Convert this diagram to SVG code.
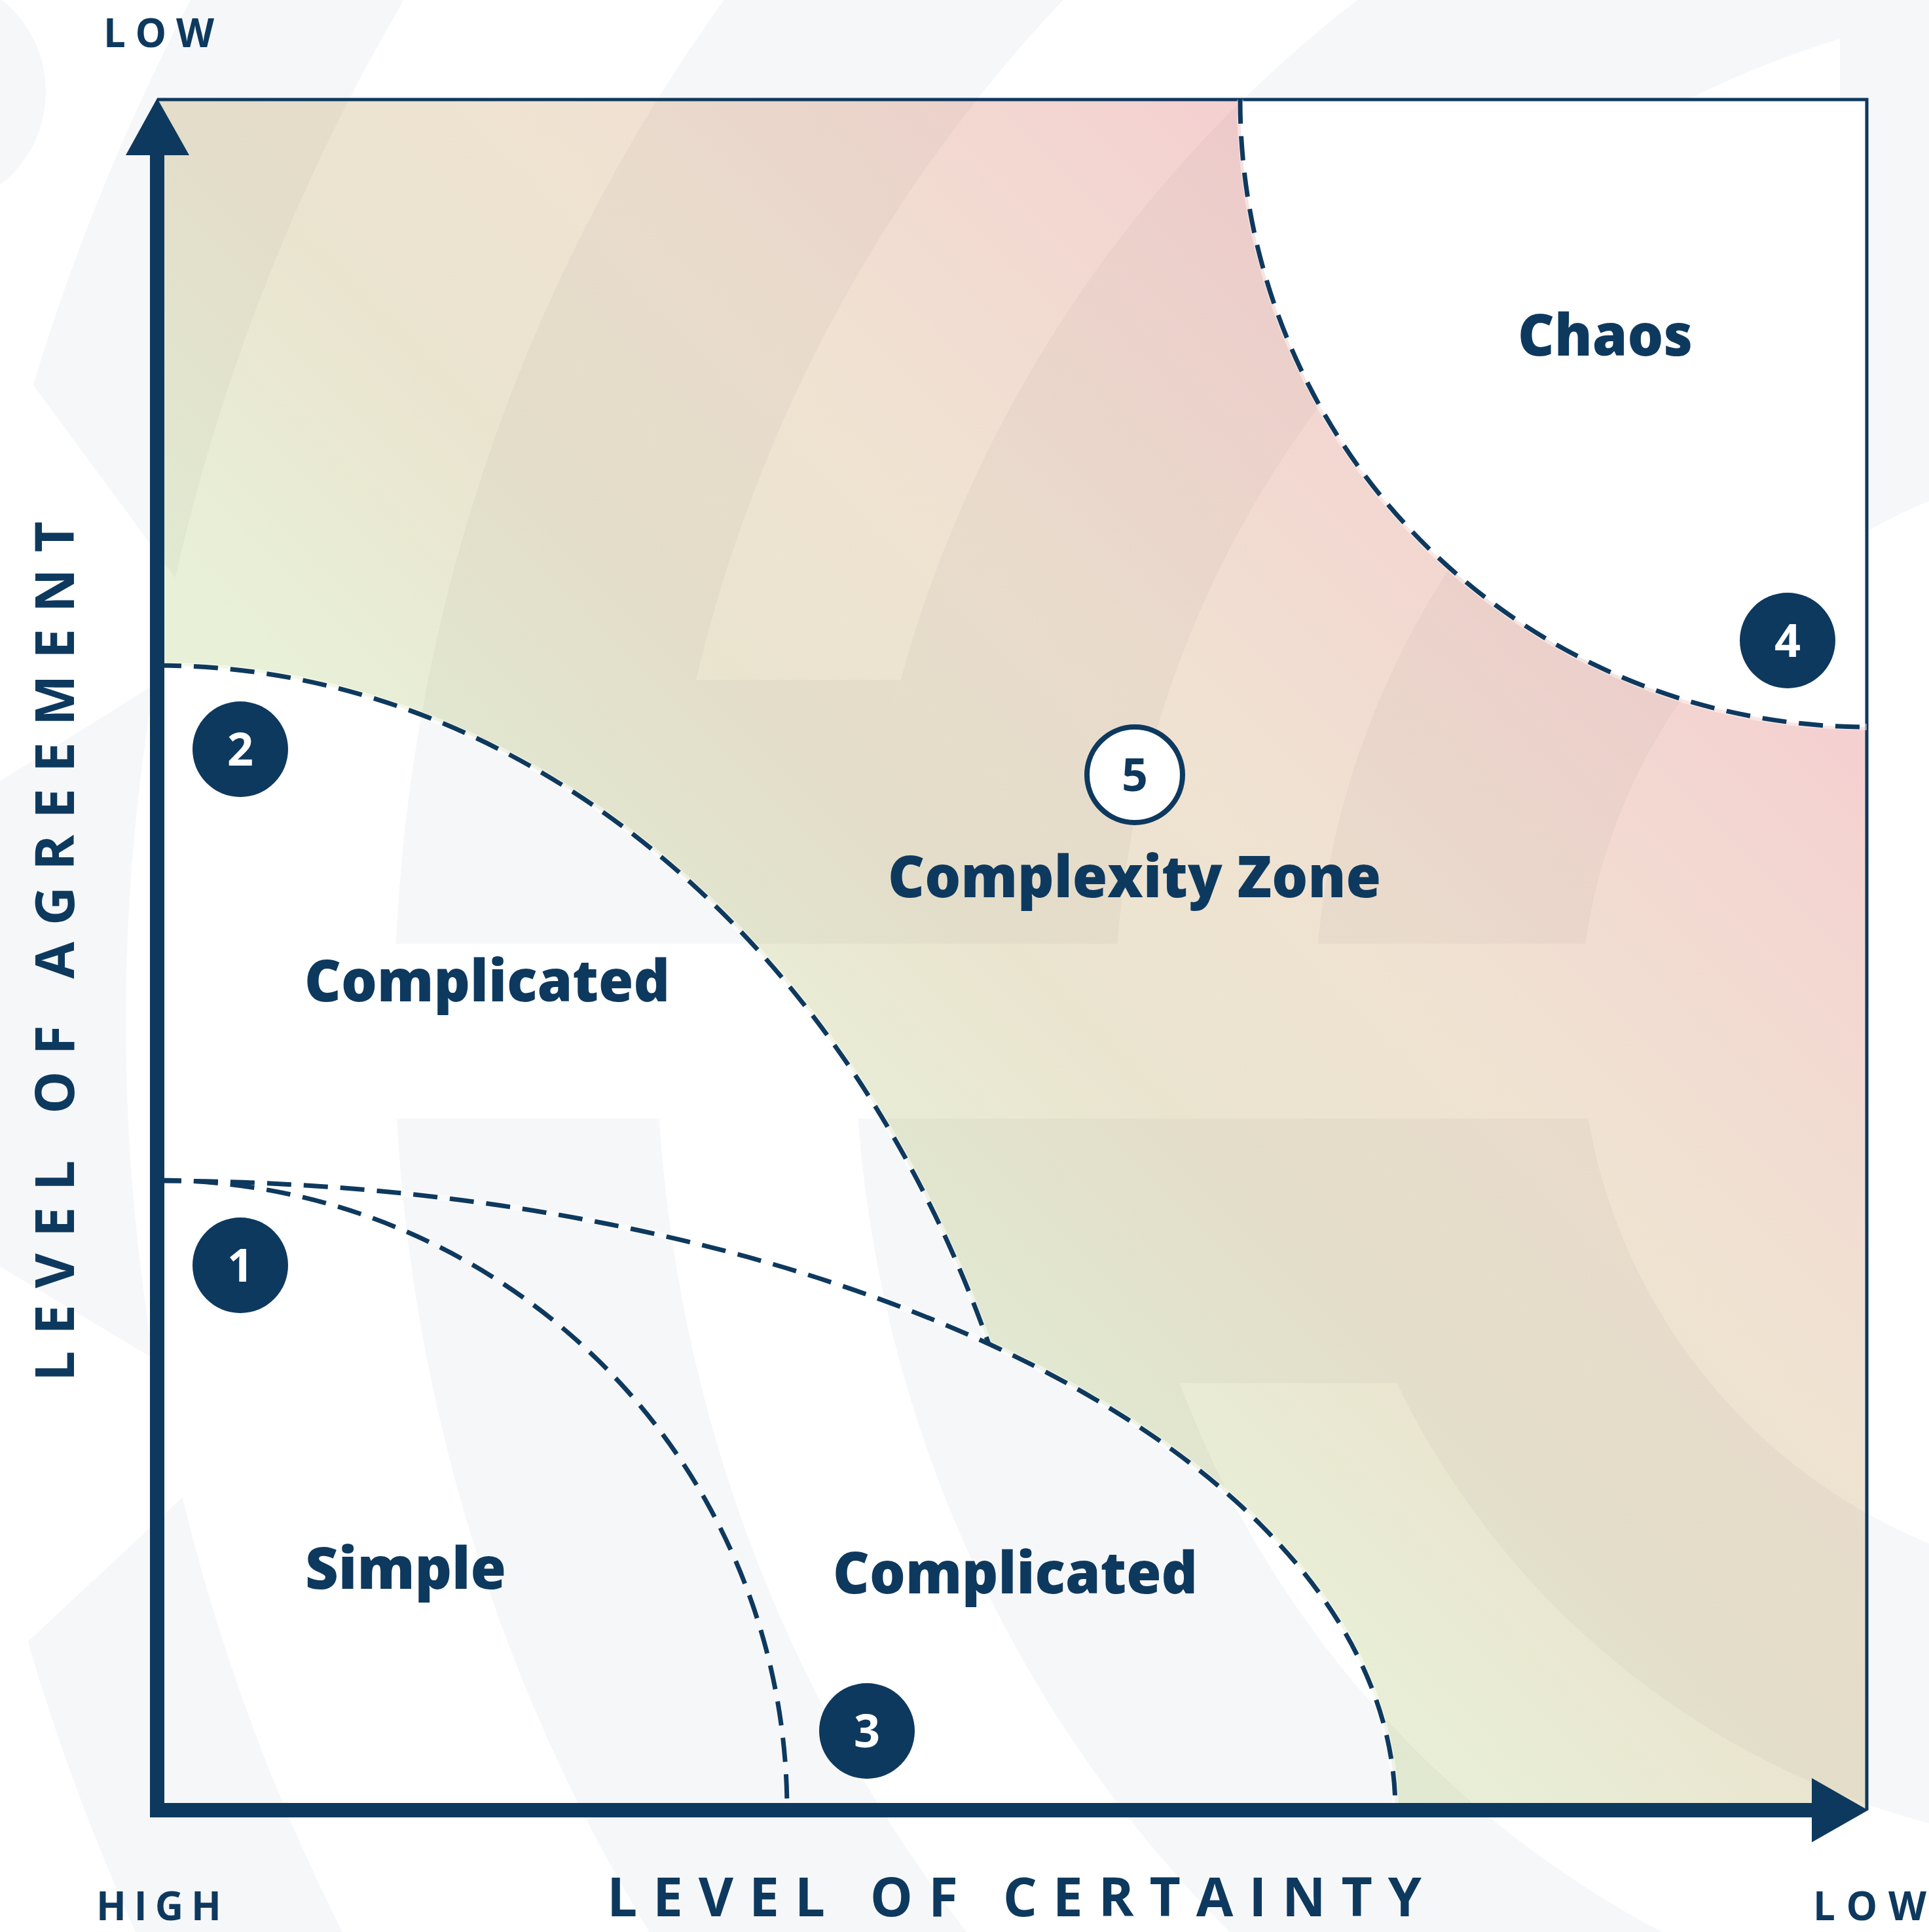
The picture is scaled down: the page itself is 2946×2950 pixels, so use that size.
<svg xmlns="http://www.w3.org/2000/svg" width="2946" height="2950" viewBox="0 0 2946 2950">
<defs>
<linearGradient id="zoneGrad" gradientUnits="userSpaceOnUse" x1="240" y1="2764" x2="2851" y2="153">
<stop offset="0" stop-color="#eaf6da"/>
<stop offset="0.36" stop-color="#e8f1d8"/>
<stop offset="0.5" stop-color="#eae4cf"/>
<stop offset="0.62" stop-color="#f0e2d2"/>
<stop offset="0.8" stop-color="#f4d1d0"/>
<stop offset="1" stop-color="#f5c8cc"/>
</linearGradient>
<clipPath id="cAbove1441"><rect x="-100" y="-100" width="3200" height="1541"/></clipPath>
<clipPath id="cBelow1708"><rect x="-100" y="1708" width="3200" height="1400"/></clipPath>
<clipPath id="c1038to1441"><rect x="-100" y="1038" width="3200" height="403"/></clipPath>
<clipPath id="c1708to2112"><rect x="-100" y="1708" width="3200" height="404"/></clipPath>
<clipPath id="cLeftOf2810"><rect x="-100" y="-100" width="2910" height="1541"/></clipPath>
<clipPath id="cRightOf2810"><rect x="2810" y="-100" width="300" height="1541"/></clipPath>
<clipPath id="cW1top"><polygon points="-50,-50 1500,-50 1500,2556 -50,451"/></clipPath>
<clipPath id="cW1mid"><polygon points="-50,1224 600,818 600,2294 -50,1904"/></clipPath>
<clipPath id="cW1bot"><polygon points="-50,2593 1000,1613 1000,3000 -50,3000"/></clipPath>
<clipPath id="cNoChaos"><path clip-rule="evenodd" d="M-100 -100 H3100 V3100 H-100 Z M1894 152 A957 957 0 0 0 2851 1110 V152 Z"/></clipPath>
<clipPath id="zoneClip"><path d="M240 152 H1894 A957 957 0 0 0 2851 1110 V2764 H2131 A1891 961 0 0 0 1510 2052 A1391 1748 0 0 0 240 1016 Z"/></clipPath>
<g id="wm">
<circle cx="-110" cy="140" r="180"/>
<g clip-path="url(#cNoChaos)">
<path fill-rule="evenodd" clip-path="url(#cW1top)" d="M-93 1561 A3366 3366 0 1 0 6639 1561 A3366 3366 0 1 0 -93 1561 Z M192 1561 A3081 3081 0 1 0 6354 1561 A3081 3081 0 1 0 192 1561 Z"/>
<path fill-rule="evenodd" clip-path="url(#cW1mid)" d="M-93 1561 A3366 3366 0 1 0 6639 1561 A3366 3366 0 1 0 -93 1561 Z M192 1561 A3081 3081 0 1 0 6354 1561 A3081 3081 0 1 0 192 1561 Z"/>
<path fill-rule="evenodd" clip-path="url(#cW1bot)" d="M-93 1561 A3366 3366 0 1 0 6639 1561 A3366 3366 0 1 0 -93 1561 Z M192 1561 A3081 3081 0 1 0 6354 1561 A3081 3081 0 1 0 192 1561 Z"/>
<path fill-rule="evenodd" clip-path="url(#cAbove1441)" d="M602 1561 A2671 2671 0 1 0 5944 1561 A2671 2671 0 1 0 602 1561 Z M1002 1561 A2271 2271 0 1 0 5544 1561 A2271 2271 0 1 0 1002 1561 Z"/>
<path fill-rule="evenodd" clip-path="url(#cBelow1708)" d="M602 1561 A2671 2671 0 1 0 5944 1561 A2671 2671 0 1 0 602 1561 Z M1002 1561 A2271 2271 0 1 0 5544 1561 A2271 2271 0 1 0 1002 1561 Z"/>
<path fill-rule="evenodd" clip-path="url(#c1038to1441)" d="M1002 1561 A2271 2271 0 1 0 5544 1561 A2271 2271 0 1 0 1002 1561 Z M1305 1561 A1968 1968 0 1 0 5241 1561 A1968 1968 0 1 0 1305 1561 Z"/>
<path fill-rule="evenodd" clip-path="url(#cLeftOf2810)" d="M1305 1561 A1968 1968 0 1 0 5241 1561 A1968 1968 0 1 0 1305 1561 Z M1702 1561 A1571 1571 0 1 0 4844 1561 A1571 1571 0 1 0 1702 1561 Z"/>
<path fill-rule="evenodd" clip-path="url(#cBelow1708)" d="M1305 1561 A1968 1968 0 1 0 5241 1561 A1968 1968 0 1 0 1305 1561 Z M1702 1561 A1571 1571 0 1 0 4844 1561 A1571 1571 0 1 0 1702 1561 Z"/>
<path fill-rule="evenodd" clip-path="url(#c1708to2112)" d="M1702 1561 A1571 1571 0 1 0 4844 1561 A1571 1571 0 1 0 1702 1561 Z M2007 1561 A1266 1266 0 1 0 4539 1561 A1266 1266 0 1 0 2007 1561 Z"/>
<path fill-rule="evenodd" clip-path="url(#cRightOf2810)" d="M1305 1561 A1968 1968 0 1 0 5241 1561 A1968 1968 0 1 0 1305 1561 Z M2413 1561 A860 860 0 1 0 4133 1561 A860 860 0 1 0 2413 1561 Z"/>
<path fill-rule="evenodd" clip-path="url(#cAbove1441)" d="M2007 1561 A1266 1266 0 1 0 4539 1561 A1266 1266 0 1 0 2007 1561 Z M2413 1561 A860 860 0 1 0 4133 1561 A860 860 0 1 0 2413 1561 Z"/>
<path fill-rule="evenodd" clip-path="url(#cBelow1708)" d="M2007 1561 A1266 1266 0 1 0 4539 1561 A1266 1266 0 1 0 2007 1561 Z M2413 1561 A860 860 0 1 0 4133 1561 A860 860 0 1 0 2413 1561 Z"/>
</g>
</g>
<style>
.dash{fill:none;stroke:#0e395e;stroke-width:7;stroke-dasharray:37 19}
.under{fill:none;stroke:#ffffff;stroke-opacity:0.45;stroke-width:10}
.label{font-family:'Open Sans','DejaVu Sans',sans-serif;font-weight:800;font-size:88px;fill:#0e395e}
.axt{font-family:'Open Sans','DejaVu Sans',sans-serif;font-weight:700;font-size:82px;fill:#0e395e}
.axe{font-family:'Open Sans','DejaVu Sans',sans-serif;font-weight:700;font-size:60px;fill:#0e395e}
.badge circle{fill:#0e395e}
.badge text{fill:#ffffff;font-family:'Open Sans','DejaVu Sans',sans-serif;font-weight:700;font-size:70px;text-anchor:middle}
.frame{fill:none;stroke:#0e395e;stroke-width:5}
.axis{fill:none;stroke:#0e395e;stroke-width:22;stroke-linejoin:miter}
.head{fill:#0e395e}
</style>
</defs>
<rect x="0" y="0" width="2946" height="2950" fill="#ffffff"/>

<g id="watermark">
<use href="#wm" fill="#f6f7f9"/>
</g>

<g id="complexity-zone-fill">
<path d="M240 152 H1894 A957 957 0 0 0 2851 1110 V2764 H2131 A1891 961 0 0 0 1510 2052 A1391 1748 0 0 0 240 1016 Z" fill="url(#zoneGrad)"/>
<g clip-path="url(#zoneClip)"><use href="#wm" fill="#000000" opacity="0.03"/></g>
</g>

<g id="frame">
<path class="frame" d="M240 152 H2851 V2764"/>
</g>

<g id="connectors">
<path class="under" d="M1894 152 A957 957 0 0 0 2851 1110"/>
<path class="under" d="M240 1016 A1391 1748 0 0 1 1510 2052"/>
<path class="under" d="M240 1803 A1891 961 0 0 1 2131 2764"/>
<path class="dash" d="M1894 152 A957 957 0 0 0 2851 1110"/>
<path class="dash" d="M240 1016 A1391 1748 0 0 1 1510 2052"/>
<path class="dash" d="M240 1803 A1891 961 0 0 1 2131 2764"/>
<path class="dash" d="M240 1802 A962 962 0 0 1 1202 2764"/>
</g>

<g id="axes">
<path class="axis" d="M240 236 V2764 H2768"/>
<polygon class="head" points="240,150 192,237 289,237"/>
<polygon class="head" points="2767,2715 2853,2764 2767,2813"/>
</g>

<g id="axis-labels">
<text class="axe" x="158" y="72" textLength="169" lengthAdjust="spacing">LOW</text>
<text class="axe" x="147" y="2932" textLength="191" lengthAdjust="spacing">HIGH</text>
<text class="axe" x="2769" y="2932" textLength="173" lengthAdjust="spacing">LOW</text>
<text class="axt" x="927" y="2926" textLength="1244" lengthAdjust="spacing">LEVEL OF CERTAINTY</text>
<text class="axt" transform="translate(113 2109) rotate(-90)" x="0" y="0" textLength="1313" lengthAdjust="spacing">LEVEL OF AGREEMENT</text>
</g>

<g id="node-chaos"><text class="label" x="2318" y="543" textLength="267" lengthAdjust="spacingAndGlyphs">Chaos</text></g>
<g id="node-complexity-zone"><text class="label" x="1356" y="1370" textLength="753" lengthAdjust="spacingAndGlyphs">Complexity Zone</text></g>
<g id="node-complicated-upper"><text class="label" x="465" y="1529" textLength="558" lengthAdjust="spacingAndGlyphs">Complicated</text></g>
<g id="node-simple"><text class="label" x="466" y="2426" textLength="307" lengthAdjust="spacingAndGlyphs">Simple</text></g>
<g id="node-complicated-lower"><text class="label" x="1272" y="2433" textLength="557" lengthAdjust="spacingAndGlyphs">Complicated</text></g>

<g id="badge-1" class="badge"><circle cx="367" cy="1932" r="73"/><text x="367" y="1957">1</text></g>
<g id="badge-2" class="badge"><circle cx="367" cy="1144" r="73"/><text x="367" y="1169">2</text></g>
<g id="badge-3" class="badge"><circle cx="1324" cy="2643" r="73"/><text x="1324" y="2668">3</text></g>
<g id="badge-4" class="badge"><circle cx="2730" cy="978" r="73"/><text x="2730" y="1003">4</text></g>
<g id="badge-5"><circle cx="1733" cy="1183" r="73" fill="#ffffff" stroke="#0e395e" stroke-width="8"/><text x="1733" y="1208" fill="#0e395e" font-family="'Open Sans','DejaVu Sans',sans-serif" font-weight="700" font-size="70" text-anchor="middle">5</text></g>
</svg>
